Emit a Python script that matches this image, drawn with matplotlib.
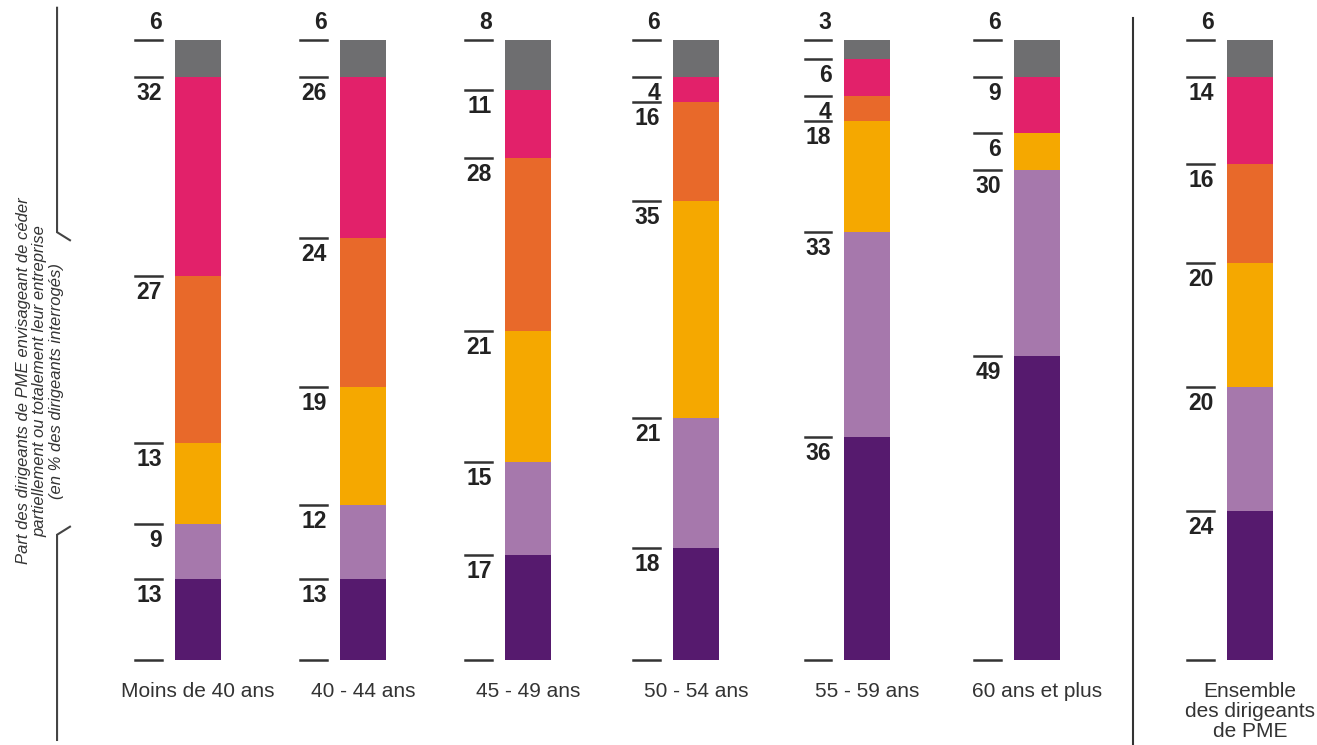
import matplotlib

matplotlib.use("Agg")
import matplotlib.pyplot as plt
import numpy as np

# catégories (bas -> haut)
categories = ["Moins de 40 ans", "40 - 44 ans", "45 - 49 ans", "50 - 54 ans",
              "55 - 59 ans", "60 ans et plus",
              "Ensemble\ndes dirigeants\nde PME"]
positions = [0, 0.983, 1.966, 2.97, 3.99, 5, 6.27]

dark_purple = [13, 13, 17, 18, 36, 49, 24]
light_purple = [9, 12, 15, 21, 33, 30, 20]
yellow = [13, 19, 21, 35, 18, 6, 20]
orange = [27, 24, 28, 16, 4, 0, 16]
pink = [32, 26, 11, 4, 6, 9, 14]
grey = [6, 6, 8, 6, 3, 6, 6]

series = [dark_purple, light_purple, yellow, orange, pink, grey]
colors = ["#561a6e", "#a678ac", "#f5a800", "#e8692a", "#e2216a", "#6e6e70"]

ylabel = ("Part des dirigeants de PME envisageant de céder\n"
          "partiellement ou totalement leur entreprise\n"
          "(en % des dirigeants interrogés)")

font = ["Liberation Sans", "DejaVu Sans"]

fig = plt.figure(figsize=(13.17, 7.45), dpi=100)
ax = fig.add_axes([0, 0, 1, 1])
ax.set_xlim(-1.18, 6.669)
ax.set_ylim(-13.71, 106.45)
ax.axis("off")

width = 0.274
bottom = np.zeros(len(positions))
for vals, col in zip(series, colors):
    vals = np.array(vals, dtype=float)
    ax.bar(positions, vals, width=width, bottom=bottom, color=col,
           linewidth=0)
    bottom += vals

# repères et valeurs à gauche des barres
tick_l, tick_r = -0.375, -0.215
for i, x in enumerate(positions):
    ax.plot([x + tick_l, x + tick_r], [0, 0], color="#333333", lw=1.8)
    cum = 0
    n_seg = len(series)
    for k, vals in enumerate(series):
        v = vals[i]
        if v == 0:
            continue
        cum += v
        ax.plot([x + tick_l, x + tick_r], [cum, cum], color="#333333", lw=1.8)
        if k == n_seg - 1:
            ax.text(x + tick_r, cum + 0.9, str(v), ha="right", va="bottom",
                    fontsize=16.5, fontweight="bold", color="#222222",
                    family=font)
        else:
            ax.text(x + tick_r, cum - 0.8, str(v), ha="right", va="top",
                    fontsize=16.5, fontweight="bold", color="#222222",
                    family=font)
    ax.text(x, -3.6, categories[i], ha="center", va="top", fontsize=15,
            color="#333333", family=font, linespacing=1.05)

# séparateur avant l'ensemble
ax.plot([5.57, 5.57], [103.5, -13.71], color="#333333", lw=1.5)

# axe gauche avec accolade autour du titre
lx = -0.84
ax.plot([lx, lx, lx + 0.077], [105.2, 69.0, 67.7], color="#444444", lw=1.5,
        solid_joinstyle="miter")
ax.plot([lx + 0.077, lx, lx], [21.5, 20.2, -12.9], color="#444444", lw=1.5,
        solid_joinstyle="miter")
ax.text(-0.942, 45.0, ylabel, rotation=90, ha="center", va="center",
        fontsize=12, style="italic", color="#333333", family=font,
        linespacing=1.15)

fig.savefig("out.png", dpi=100)
plt.close(fig)
